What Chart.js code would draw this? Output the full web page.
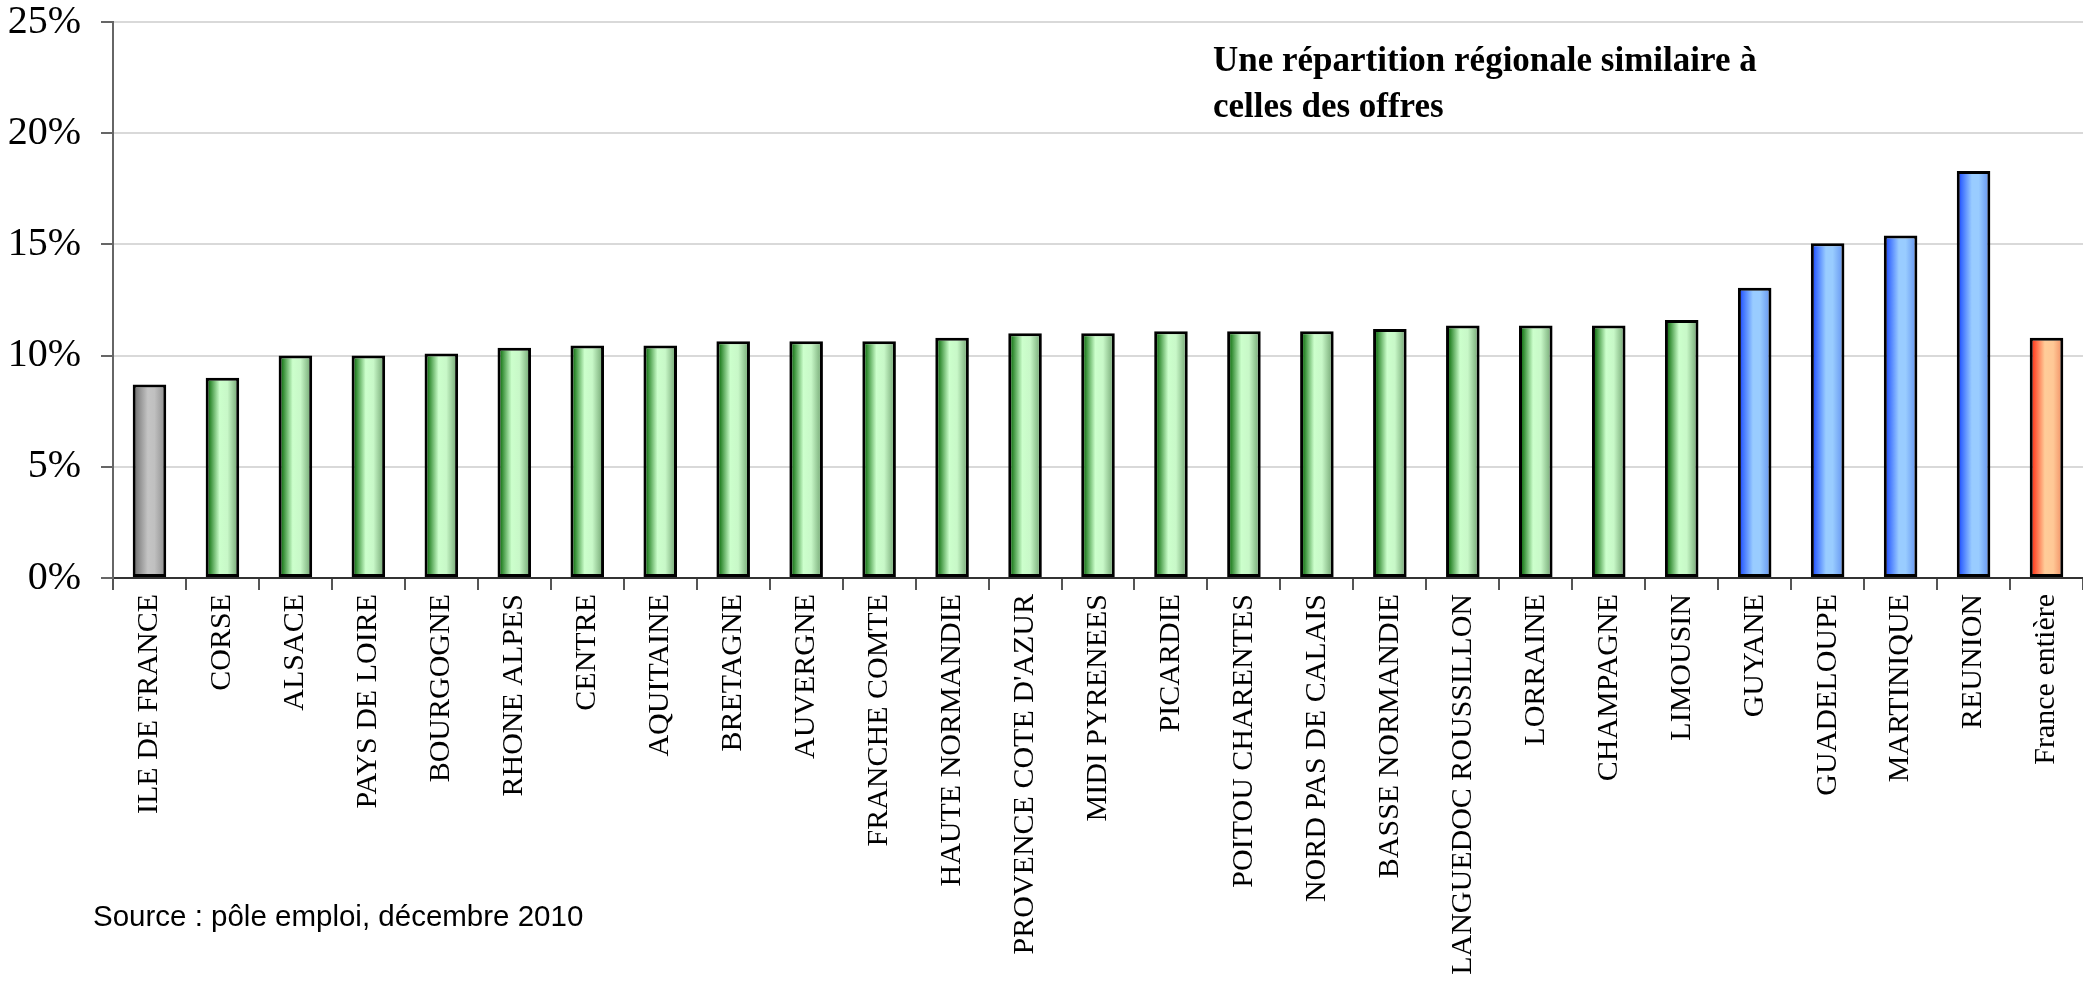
<!DOCTYPE html>
<html>
<head>
<meta charset="utf-8">
<script src="https://cdn.jsdelivr.net/npm/chart.js@4"></script>
<style>
  html, body { margin: 0; padding: 0; background: #fff; }
  #wrap { position: relative; width: 2083px; height: 986px; }
  #note {
    position: absolute; left: 1213px; top: 37px;
    font: bold 35px "Liberation Serif", serif; line-height: 46px; color: #000;
  }
  #source {
    position: absolute; left: 93px; top: 899px;
    font: 29.5px "Liberation Sans", Arial, sans-serif; line-height: 34px; color: #000;
  }
</style>
</head>
<body>
<div id="wrap">
  <canvas id="chart"></canvas>
  <div id="note">Une répartition régionale similaire à<br>celles des offres</div>
  <div id="source">Source : pôle emploi, décembre 2010</div>
</div>
<script>
// regions, sorted as in the source chart
const regions = ['ILE DE FRANCE', 'CORSE', 'ALSACE', 'PAYS DE LOIRE', 'BOURGOGNE', 'RHONE ALPES',
  'CENTRE', 'AQUITAINE', 'BRETAGNE', 'AUVERGNE', 'FRANCHE COMTE', 'HAUTE NORMANDIE',
  'PROVENCE COTE D\'AZUR', 'MIDI PYRENEES', 'PICARDIE', 'POITOU CHARENTES', 'NORD PAS DE CALAIS',
  'BASSE NORMANDIE', 'LANGUEDOC ROUSSILLON', 'LORRAINE', 'CHAMPAGNE', 'LIMOUSIN', 'GUYANE',
  'GUADELOUPE', 'MARTINIQUE', 'REUNION', 'France entière'];
// share in %
const shares = [8.7, 9.0, 10.0, 10.0, 10.1, 10.35, 10.45, 10.45, 10.65, 10.65, 10.65, 10.8,
  11.0, 11.0, 11.1, 11.1, 11.1, 11.2, 11.35, 11.35, 11.35, 11.6, 13.05, 15.05, 15.4, 18.3, 10.8];
// kind of region
const regionType = ['idf', 'metro', 'metro', 'metro', 'metro', 'metro', 'metro', 'metro', 'metro',
  'metro', 'metro', 'metro', 'metro', 'metro', 'metro', 'metro', 'metro', 'metro', 'metro',
  'metro', 'metro', 'metro', 'dom', 'dom', 'dom', 'dom', 'total'];
const yTicks = [0, 5, 10, 15, 20, 25];

const BAR_PCT = 0.46;

const gradients = {
  idf:   [[0, '#4a4a4a'], [0.12, '#808080'], [0.45, '#c4c4c4'], [0.65, '#c0c0c0'], [1, '#8a8a8a']],
  metro: [[0, '#004000'], [0.12, '#2a852a'], [0.42, '#ccffcc'], [0.65, '#c8f8c8'], [1, '#6a9e6a']],
  dom:   [[0, '#0000f0'], [0.12, '#3366ff'], [0.45, '#99ccff'], [0.65, '#99ccff'], [1, '#5f8fef']],
  total: [[0, '#f00000'], [0.12, '#ff4a2a'], [0.45, '#ffcc99'], [0.7, '#ffc896'], [1, '#f08a60']]
};

function barFill(ctx) {
  const chart = ctx.chart;
  const xs = chart.scales && chart.scales.x;
  if (!xs || ctx.dataIndex === undefined || !xs.width) return '#ccffcc';
  const c = xs.getPixelForValue(ctx.dataIndex);
  const w = xs.width / regions.length * BAR_PCT;
  if (!isFinite(c) || !isFinite(w)) return '#ccffcc';
  const g = chart.ctx.createLinearGradient(c - w / 2, 0, c + w / 2, 0);
  gradients[regionType[ctx.dataIndex]].forEach(s => g.addColorStop(s[0], s[1]));
  return g;
}

const canvas = document.getElementById('chart');
canvas.width = 2083;
canvas.height = 986;

new Chart(canvas, {
  type: 'bar',
  data: {
    labels: regions,
    datasets: [{
      data: shares,
      backgroundColor: barFill,
      borderColor: '#000',
      borderWidth: 3,
      borderSkipped: false,
      categoryPercentage: 1,
      barPercentage: BAR_PCT
    }]
  },
  options: {
    responsive: false,
    animation: false,
    devicePixelRatio: 1,
    layout: { padding: { top: 22, right: 0, left: 0, bottom: 0 } },
    plugins: { legend: { display: false }, tooltip: { enabled: false } },
    scales: {
      x: {
        afterFit: s => { s.height = 408; s.paddingLeft = 0; s.paddingRight = 0; },
        grid: { display: true, drawOnChartArea: false, offset: true, tickLength: 12, color: '#555', lineWidth: 2 },
        border: { display: true, color: '#333', width: 2 },
        ticks: {
          autoSkip: false, minRotation: 90, maxRotation: 90, padding: 4, color: '#000',
          font: { family: 'Liberation Serif', size: 30 }
        }
      },
      y: {
        min: 0, max: 25,
        afterFit: s => { s.width = 113; s.paddingTop = 0; s.paddingBottom = 0; },
        afterBuildTicks: s => { s.ticks = yTicks.map(v => ({ value: v })); },
        grid: { color: '#d9d9d9', lineWidth: 2, tickLength: 12, tickColor: '#666' },
        border: { display: true, color: '#666', width: 2 },
        ticks: {
          padding: 20, color: '#000',
          font: { family: 'Liberation Serif', size: 40 },
          callback: v => v + '%'
        }
      }
    }
  }
});
</script>
</body>
</html>
